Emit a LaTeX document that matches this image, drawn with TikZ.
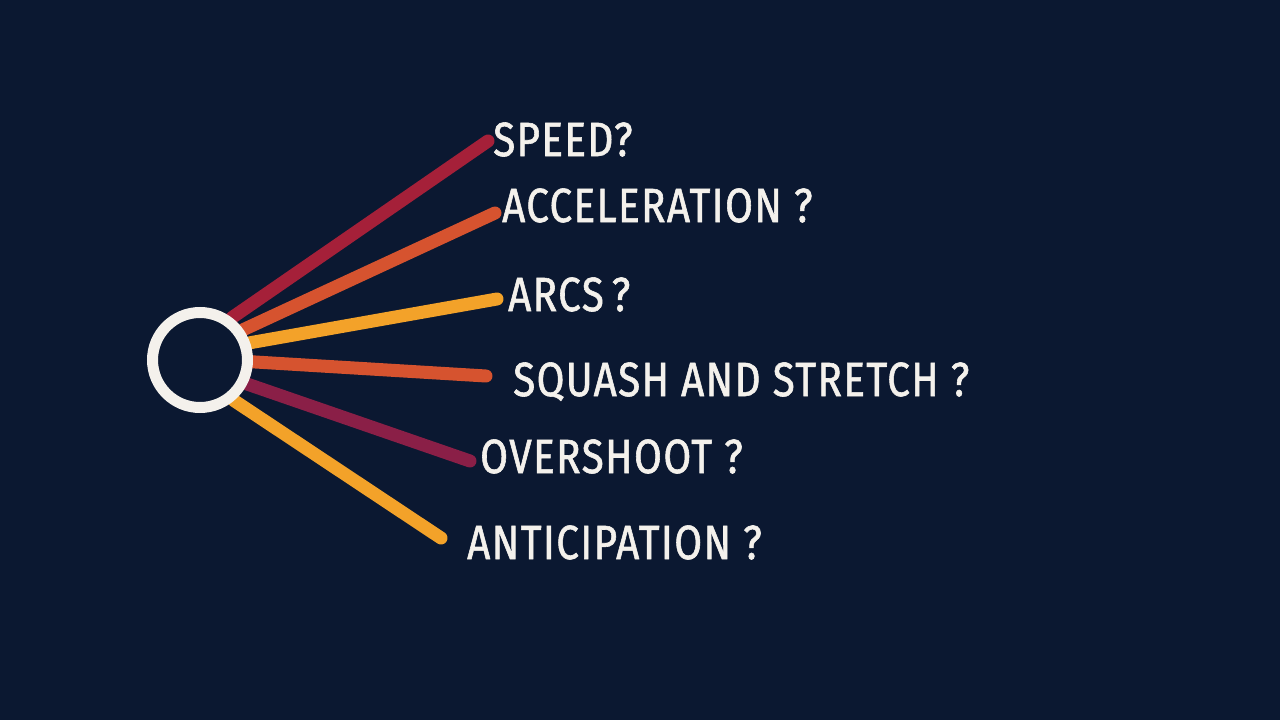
\documentclass[tikz,border=0pt]{standalone}
\usepackage{fontspec}
\newfontfamily\handfont[FakeStretch=0.84,LetterSpace=3,FakeBold=1.2]{Fira Sans}
\usepackage{tikz}
\definecolor{nightsky}{HTML}{0B1831}
\definecolor{chalk}{HTML}{F4F1EC}
\definecolor{crimson}{HTML}{A52039}
\definecolor{rust}{HTML}{D6532F}
\definecolor{amber}{HTML}{F3A229}
\definecolor{plum}{HTML}{8A1F47}
\pgfdeclarelayer{front}
\pgfsetlayers{main,front}
\tikzset{
  spoke/.style={
    draw=#1, line width=13pt, line cap=round
  },
  spoke/.default=amber,
  hubring/.style={
    circle, draw=chalk, line width=11pt,
    minimum size=95pt, inner sep=0pt
  },
  question/.style={
    anchor=base west, inner sep=0pt, text=chalk,
    font=\handfont\fontsize{48}{56}\selectfont
  },
}

\begin{document}
\begin{tikzpicture}[x=1pt,y=-1pt]

  % Backdrop
  \fill[nightsky] (0,0) rectangle (1280,720);
  \useasboundingbox (0,0) rectangle (1280,720);

  % Hub
  \begin{pgfonlayer}{front}
    \node[hubring] (hub) at (200,360) {};
  \end{pgfonlayer}

  % Spoke ends
  \coordinate (e1) at (488,141);
  \coordinate (e2) at (495,213);
  \coordinate (e3) at (497,299);
  \coordinate (e4) at (486,376);
  \coordinate (e5) at (470,461);
  \coordinate (e6) at (441,538);

  % Spokes
  \draw[spoke=crimson] (hub.53) -- (e1);
  \draw[spoke=rust] (hub.35) -- (e2);
  \draw[spoke=amber] (hub.19) -- (e3);
  \draw[spoke=rust] (hub.-2) -- (e4);
  \draw[spoke=plum] (hub.-27) -- (e5);
  \draw[spoke=amber] (hub.-50) -- (e6);

  % Questions
  \node[question] (speed) at (493,156) {SPEED?};
  \node[question] (accel) at (502,222) {ACCELERATION ?};
  \node[question] (arcs) at (508,311) {ARCS\,?};
  \node[question] (squash) at (513,396) {SQUASH AND STRETCH ?};
  \node[question] (overshoot) at (480,473) {OVERSHOOT ?};
  \node[question] (antic) at (467,559) {ANTICIPATION ?};
\end{tikzpicture}
\end{document}
